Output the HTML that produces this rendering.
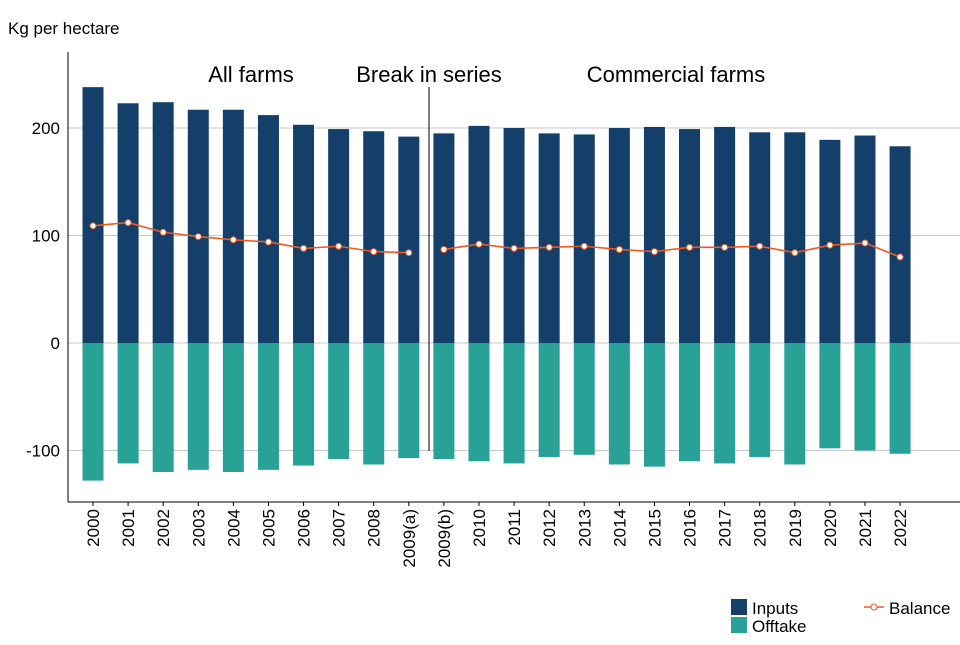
<!DOCTYPE html>
<html><head><meta charset="utf-8"><style>
body{margin:0;background:#fff;font-family:"Liberation Sans",sans-serif}
svg text{font-family:"Liberation Sans",sans-serif}
</style></head><body>
<svg id="c" width="960" height="640"></svg>
<script>
const categories=["2000","2001","2002","2003","2004","2005","2006","2007","2008","2009(a)","2009(b)","2010","2011","2012","2013","2014","2015","2016","2017","2018","2019","2020","2021","2022"];
const inputs=[238,223,224,217,217,212,203,199,197,192,195,202,200,195,194,200,201,199,201,196,196,189,193,183];
const offtake=[-128,-112,-120,-118,-120,-118,-114,-108,-113,-107,-108,-110,-112,-106,-104,-113,-115,-110,-112,-106,-113,-98,-100,-103];
const balance=[109,112,103,99,96,94,88,90,85,84,87,92,88,89,90,87,85,89,89,90,84,91,93,80];
const yTicks=[-100,0,100,200];
const NS="http://www.w3.org/2000/svg";
const svg=document.getElementById('c');
const LC='#f05a1e';
function y(v){return 343-v*1.075;}
function x(i){return 93+i*35.09;}
function mk(t,a,p){const e=document.createElementNS(NS,t);for(const k in a)e.setAttribute(k,a[k]);(p||svg).appendChild(e);return e;}
yTicks.forEach(t=>{
 const g=mk('line',{x1:68,x2:960,y1:y(t),y2:y(t),stroke:'#c8c8c8','stroke-width':1});
 
 
 const l=mk('text',{x:60,y:y(t)+6,'text-anchor':'end','font-size':17,fill:'#000'});l.textContent=t;
 
 
});
categories.forEach((c,i)=>{
 const b=mk('rect',{x:x(i)-10.5,y:y(inputs[i]),width:21,height:y(0)-y(inputs[i]),fill:'#143f6b'});
 
 
 const o=mk('rect',{x:x(i)-10.5,y:y(0),width:21,height:y(offtake[i])-y(0),fill:'#28a197'});
 
 
 const t=mk('text',{transform:`translate(${x(i)+6},509) rotate(-90)`,'text-anchor':'end','font-size':17,fill:'#000'});t.textContent=c;
 
 
 mk('line',{x1:x(i),x2:x(i),y1:502,y2:506,stroke:'#000'});
});
function seg(a,b){let d='';for(let i=a;i<=b;i++)d+=(i==a?'M':'L')+x(i)+','+y(balance[i]);
 const p=mk('path',{d:d,fill:'none',stroke:LC,'stroke-width':1.6});
 
 }
seg(0,9);seg(10,23);
balance.forEach((v,i)=>{const c=mk('circle',{cx:x(i),cy:y(v),r:3,fill:'#fff',stroke:LC,'stroke-width':1});
 
 });
mk('line',{x1:68,x2:68,y1:52,y2:502,stroke:'#000'});
mk('line',{x1:68,x2:960,y1:502,y2:502,stroke:'#000'});
mk('line',{x1:429,x2:429,y1:87,y2:451,stroke:'#000'});
function txt(s,X,Y,fs,name,anchor){const t=mk('text',{x:X,y:Y,'font-size':fs,fill:'#000','text-anchor':anchor||'start'});t.textContent=s;
 
 }
txt('Kg per hectare',8,34,17,'y-axis-title');
txt('All farms',251,82,22,'annotation-all-farms','middle');
txt('Break in series',429,82,22,'annotation-break','middle');
txt('Commercial farms',676,82,22,'annotation-commercial','middle');
mk('rect',{x:731,y:599,width:16,height:16,fill:'#143f6b'});
mk('rect',{x:731,y:617,width:16,height:16,fill:'#28a197'});
txt('Inputs',752,614,17,'legend-inputs');
txt('Offtake',752,632,17,'legend-offtake');
mk('line',{x1:864,x2:884,y1:607,y2:607,stroke:LC,'stroke-width':1.6});
mk('circle',{cx:874,cy:607,r:3,fill:'#fff',stroke:LC});
txt('Balance',889,614,17,'legend-balance');
</script>
</body></html>
